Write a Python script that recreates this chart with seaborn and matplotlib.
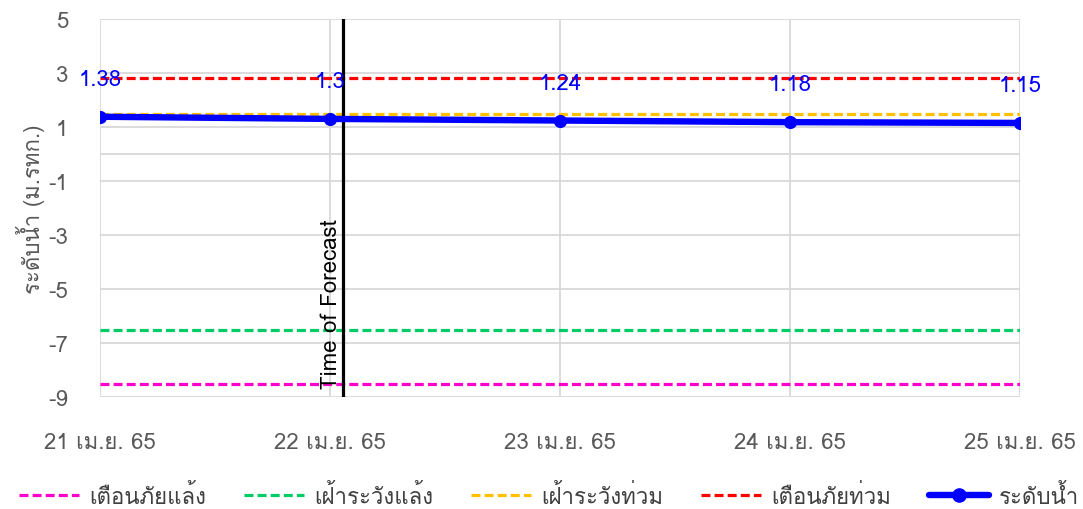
import matplotlib
matplotlib.use("Agg")
import matplotlib.pyplot as plt
import seaborn as sns
import pandas as pd
from matplotlib.lines import Line2D

# Dates and forecast water level (m MSL)
dates = ["21 เม.ย. 65", "22 เม.ย. 65", "23 เม.ย. 65", "24 เม.ย. 65", "25 เม.ย. 65"]
water_level = [1.38, 1.3, 1.24, 1.18, 1.15]

# Threshold levels
threshold_names = ["เตือนภัยแล้ง", "เฝ้าระวังแล้ง", "เฝ้าระวังท่วม", "เตือนภัยท่วม"]
threshold_values = [-8.5, -6.5, 1.5, 2.8]
threshold_colors = ["#ff00cc", "#00cc66", "#ffc000", "#ff0000"]
series_name = "ระดับน้ำ"
forecast_pos = 1.055

y_ticks = [5, 3, 1, -1, -3, -5, -7, -9]

sns.set_theme(style="white")
plt.rcParams["font.family"] = ["Tahoma", "Loma", "Garuda", "Norasi", "Noto Sans Thai",
                               "Tlwg Typo", "DejaVu Sans"]

fig = plt.figure(figsize=(10.83, 5.10), dpi=100)
ax = fig.add_axes([100 / 1083, 1 - 398 / 510, 920 / 1083, 378 / 510])

x = list(range(len(dates)))
dash = (0, (2.8, 1.3))

grid_c = "#d9d9d9"
for yt in y_ticks:
    ax.axhline(yt, color=grid_c, lw=1.3, zorder=0)
ax.axhline(0, color=grid_c, lw=1.3, zorder=0)
for xi in x:
    ax.axvline(xi, color=grid_c, lw=1.3, zorder=0)

rows = []
for name, val in zip(threshold_names, threshold_values):
    for xi in x:
        rows.append({"x": xi, "y": val, "series": name})
thr_df = pd.DataFrame(rows)
sns.lineplot(data=thr_df, x="x", y="y", hue="series", hue_order=threshold_names,
             palette=threshold_colors, lw=2.3, dashes=False, legend=False, ax=ax, zorder=2)
for ln in ax.get_lines()[-len(threshold_names):]:
    ln.set_linestyle(dash)

wl_df = pd.DataFrame({"x": x, "y": water_level})
sns.lineplot(data=wl_df, x="x", y="y", color="#0000ff", lw=4.6, marker="o",
             markersize=9.5, markeredgewidth=0, legend=False, ax=ax, zorder=4)

for xi, v in zip(x, water_level):
    ax.annotate(f"{v:g}", (xi, v), xytext=(0, 27), textcoords="offset points",
                ha="center", va="center", color="#0000ff", fontsize=16, zorder=5)

ax.axvline(forecast_pos, color="black", lw=2.3, zorder=3)
ax.text(forecast_pos - 0.004, -8.65, "Time of Forecast", rotation=90, ha="right",
        va="bottom", fontsize=16, color="black")

ax.set_xlim(0, len(dates) - 1)
ax.set_ylim(-9, 5)
ax.set_yticks(y_ticks)
ax.set_yticklabels([str(t) for t in y_ticks])
ax.set_xticks(x)
ax.set_xticklabels(dates)
ax.tick_params(axis="both", length=0, labelsize=16, labelcolor="#595959")
ax.tick_params(axis="x", pad=25)
ax.tick_params(axis="y", pad=23)
for s in ax.spines.values():
    s.set_visible(False)
ax.set_xlabel("")
ax.set_ylabel("ระดับน้ำ (ม.รทก.)", fontsize=16, color="#595959", labelpad=2)

handles = [Line2D([], [], color=c, lw=2.3, linestyle=dash) for c in threshold_colors]
handles.append(Line2D([], [], color="#0000ff", lw=4.6, marker="o", markersize=9.5))
labels = threshold_names + [series_name]
fig.legend(handles, labels, loc="center", bbox_to_anchor=(0.507, 1 - 497 / 510), ncol=5,
           frameon=False, fontsize=16, handlelength=2.7, columnspacing=1.7,
           handletextpad=0.45, labelcolor="#404040")

fig.savefig("out.png", dpi=100)
